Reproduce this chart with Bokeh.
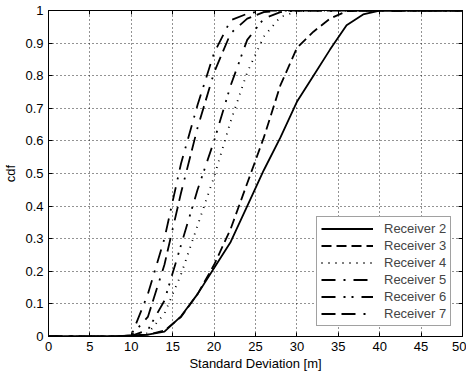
from bokeh.plotting import figure
from bokeh.models import Range1d, LinearAxis, FixedTicker, Legend, LegendItem
from bokeh.embed import file_html
from bokeh.resources import INLINE

# Standard deviation samples [m]
std_m = [0, 2, 4, 6, 8, 10, 12, 14, 16, 18, 20, 22, 24, 26, 28, 30, 32, 34, 36, 38, 40, 42, 44, 46, 48, 50]

cdf_r2 = [0, 0, 0, 0, 0, 0.003, 0.006, 0.015, 0.062, 0.13, 0.21, 0.29, 0.40, 0.51, 0.61, 0.72, 0.80, 0.88, 0.955, 0.988, 1, 1, 1, 1, 1, 1]
cdf_r3 = [0, 0, 0, 0, 0, 0.002, 0.006, 0.018, 0.06, 0.13, 0.22, 0.33, 0.47, 0.61, 0.77, 0.885, 0.935, 0.975, 0.998, 1, 1, 1, 1, 1, 1, 1]
cdf_r4 = [0, 0, 0, 0, 0, 0.003, 0.01, 0.07, 0.19, 0.34, 0.49, 0.66, 0.81, 0.92, 0.98, 0.997, 1, 1, 1, 1, 1, 1, 1, 1, 1, 1]
cdf_r5 = [0, 0, 0, 0, 0, 0.003, 0.13, 0.30, 0.53, 0.71, 0.87, 0.97, 0.99, 1, 1, 1, 1, 1, 1, 1, 1, 1, 1, 1, 1, 1]
cdf_r6 = [0, 0, 0, 0, 0, 0.002, 0.02, 0.11, 0.28, 0.45, 0.60, 0.77, 0.91, 0.975, 0.995, 1, 1, 1, 1, 1, 1, 1, 1, 1, 1, 1]
cdf_r7 = [0, 0, 0, 0, 0, 0.003, 0.06, 0.22, 0.44, 0.64, 0.81, 0.93, 0.975, 0.995, 1, 1, 1, 1, 1, 1, 1, 1, 1, 1, 1, 1]

series_names = ["Receiver 2", "Receiver 3", "Receiver 4", "Receiver 5", "Receiver 6", "Receiver 7"]
series_values = [cdf_r2, cdf_r3, cdf_r4, cdf_r5, cdf_r6, cdf_r7]
series_dash = ["solid", "10 5", "1 6", "14 8 2 8", "14 8 2 6 2 8", "14 6 14 8 2 8"]

x_ticks = [0, 5, 10, 15, 20, 25, 30, 35, 40, 45, 50]
y_ticks = [0, 0.1, 0.2, 0.3, 0.4, 0.5, 0.6, 0.7, 0.8, 0.9, 1]
y_tick_labels = {0: "0", 0.1: "0.1", 0.2: "0.2", 0.3: "0.3", 0.4: "0.4", 0.5: "0.5",
                 0.6: "0.6", 0.7: "0.7", 0.8: "0.8", 0.9: "0.9", 1: "1"}

FONT = "Liberation Sans"
FS = "13px"

p = figure(width=466, height=376, output_backend="svg", toolbar_location=None,
           x_range=Range1d(0, 50), y_range=Range1d(0, 1),
           min_border_left=48, min_border_right=4, min_border_top=10, min_border_bottom=40,
           x_axis_label="Standard Deviation [m]", y_axis_label="cdf")

p.background_fill_color = "white"
p.border_fill_color = "white"
p.outline_line_color = "black"
p.outline_line_width = 1

for ax in (p.xaxis[0], p.yaxis[0]):
    ax.major_tick_in = 4
    ax.major_tick_out = 0
    ax.minor_tick_in = 0
    ax.minor_tick_out = 0
    ax.axis_line_color = "black"
    ax.major_tick_line_color = "black"
    ax.major_label_text_font = FONT
    ax.major_label_text_font_size = FS
    ax.major_label_text_color = "black"
    ax.axis_label_text_font = FONT
    ax.axis_label_text_font_size = FS
    ax.axis_label_text_font_style = "normal"
    ax.axis_label_text_color = "black"

p.xaxis[0].ticker = FixedTicker(ticks=x_ticks)
p.yaxis[0].ticker = FixedTicker(ticks=y_ticks)
p.yaxis[0].major_label_overrides = y_tick_labels
p.xaxis[0].major_label_standoff = 5
p.yaxis[0].major_label_standoff = 5
p.xaxis[0].axis_label_standoff = 2
p.yaxis[0].axis_label_standoff = 4

# mirrored inward ticks on top and right (no labels)
top_ax = LinearAxis(ticker=FixedTicker(ticks=x_ticks), major_label_overrides={t: "" for t in x_ticks},
                    major_label_standoff=0, major_tick_in=4, major_tick_out=0,
                    minor_tick_in=0, minor_tick_out=0, axis_line_color="black")
right_ax = LinearAxis(ticker=FixedTicker(ticks=y_ticks), major_label_overrides={t: "" for t in y_ticks},
                      major_label_standoff=0, major_tick_in=4, major_tick_out=0,
                      minor_tick_in=0, minor_tick_out=0, axis_line_color="black")
p.add_layout(top_ax, "above")
p.add_layout(right_ax, "right")

p.xgrid.ticker = FixedTicker(ticks=x_ticks)
p.ygrid.ticker = FixedTicker(ticks=y_ticks)
for g in (p.xgrid[0], p.ygrid[0]):
    g.grid_line_color = "black"
    g.grid_line_dash = "1 3"
    g.grid_line_width = 1
    g.grid_line_alpha = 0.85

items = []
for name, vals, dash in zip(series_names, series_values, series_dash):
    r = p.line(std_m, vals, line_color="black", line_width=1.8, line_dash=dash)
    items.append(LegendItem(label=name, renderers=[r]))

legend = Legend(items=items, location=(268, 10))
legend.glyph_width = 52
legend.glyph_height = 15
legend.label_height = 15
legend.spacing = 2
legend.padding = 4
legend.margin = 0
legend.label_standoff = 11
legend.label_text_font = FONT
legend.label_text_font_size = FS
legend.border_line_color = "#444444"
legend.border_line_width = 1
legend.background_fill_color = "white"
legend.background_fill_alpha = 1
p.add_layout(legend, "center")

open("out.html", "w").write(file_html(p, INLINE))
